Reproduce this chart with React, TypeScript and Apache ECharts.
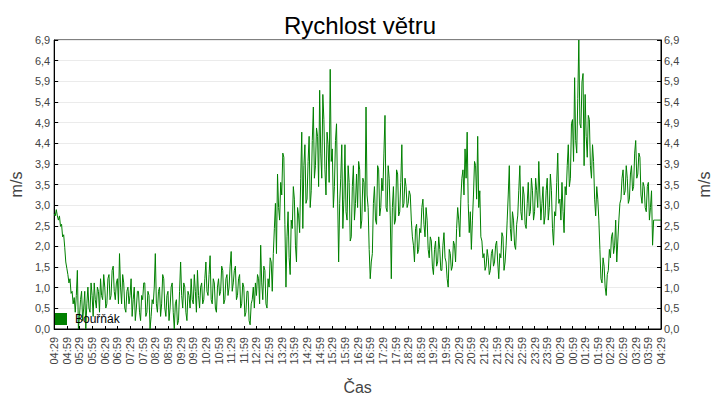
import React, { useEffect, useRef } from "react";
import * as echarts from "echarts";

const chartTitle = "Rychlost větru";
const seriesName = "Bouřňák";
const xAxisName = "Čas";
const yAxisName = "m/s";

// x tick labels, one every 30 minutes (04:29 to 04:29 next day)
const xTickLabels = [
  "04:29", "04:59", "05:29", "05:59", "06:29", "06:59", "07:29", "07:59",
  "08:29", "08:59", "09:29", "09:59", "10:29", "10:59", "11:29", "11:59",
  "12:29", "12:59", "13:29", "13:59", "14:29", "14:59", "15:29", "15:59",
  "16:29", "16:59", "17:29", "17:59", "18:29", "18:59", "19:29", "19:59",
  "20:29", "20:59", "21:29", "21:59", "22:29", "22:59", "23:29", "23:59",
  "00:29", "00:59", "01:29", "01:59", "02:29", "02:59", "03:29", "03:59",
  "04:29",
];

const yTickLabels = [
  "0,0", "0,5", "1,0", "1,5", "2,0", "2,5", "3,0", "3,5",
  "3,9", "4,4", "4,9", "5,4", "5,9", "6,4", "6,9",
];

const SAMPLE_MINUTES = 2.5;
const X_TICK_MINUTES = 30;
const Y_MAX = 6.9;

// wind speed, one reading every 2.5 minutes starting 04:29 (m/s)
const windSpeed = [
  // 04:29
  2.75, 2.7, 2.85, 2.7, 2.6, 2.7, 2.45, 2.5, 2.2, 2.25, 1.95, 1.6,
  1.45, 1.3, 1.1, 1.2, 0.85, 0.9, 0.6, 0.75, 0.4, 0.8, 1.4, 0.0,
  // 05:29
  0.3, 0.7, 0.9, 0.2, 0.5, 0.9, 0.0, 0.6, 1.0, 0.5, 0.4, 1.1,
  0.8, 0.3, 1.1, 0.7, 0.5, 1.0, 0.9, 0.4, 1.2, 0.8, 0.7, 1.3,
  // 06:29
  1.0, 0.5, 0.6, 1.2, 1.3, 0.7, 0.8, 1.4, 1.5, 0.9, 0.7, 1.1,
  1.2, 0.6, 1.8, 1.0, 0.6, 1.3, 1.1, 0.5, 0.4, 0.9, 1.0, 0.6,
  // 07:29
  0.8, 1.2, 0.3, 0.7, 1.0, 0.2, 0.5, 0.9, 0.9, 0.4, 0.2, 0.8,
  0.7, 1.1, 1.1, 0.3, 0.4, 0.9, 0.8, 0.0, 0.3, 0.7, 0.6, 1.0,
  // 08:29
  1.8, 0.6, 0.4, 0.9, 1.0, 0.3, 0.6, 1.3, 1.2, 0.5, 0.3, 0.8,
  0.9, 0.2, 0.5, 1.0, 1.1, 0.4, 0.0, 0.6, 0.7, 0.1, 0.2, 0.9,
  // 09:29
  1.6, 0.8, 0.5, 1.1, 1.0, 0.4, 0.2, 0.9, 0.8, 0.5, 1.2, 0.7,
  0.6, 1.3, 0.9, 0.4, 1.4, 0.8, 0.5, 1.0, 1.1, 0.6, 0.7, 1.2,
  // 10:29
  1.6, 0.9, 0.8, 1.3, 1.75, 0.7, 0.6, 1.2, 1.1, 0.5, 0.4, 1.0,
  1.2, 0.8, 0.9, 1.5, 1.4, 0.6, 0.7, 1.2, 1.3, 0.8, 1.0, 1.5,
  // 11:29
  1.85, 0.9, 1.1, 1.4, 1.5, 0.7, 0.8, 1.2, 1.3, 0.5, 0.6, 1.1,
  1.0, 0.3, 0.4, 0.9, 0.9, 0.2, 0.1, 0.6, 0.7, 1.0, 0.5, 1.1,
  // 12:29
  0.8, 1.3, 1.2, 0.6, 2.0, 1.1, 0.7, 1.5, 1.4, 0.6, 0.5, 1.2,
  1.0, 1.7, 1.6, 0.9, 1.8, 2.4, 3.0, 1.8, 3.7, 2.9, 2.6, 3.5,
  // 13:29
  3.2, 4.2, 4.1, 2.5, 1.0, 2.2, 2.8, 1.7, 1.3, 2.6, 2.4, 3.4,
  3.1, 2.0, 1.6, 2.9, 2.7, 2.3, 3.6, 4.7, 2.4, 3.9, 4.4, 3.0,
  // 14:29
  3.1, 4.0, 4.6, 2.9, 3.3, 4.5, 5.3, 3.6, 3.9, 4.8, 4.6, 3.4,
  5.7, 4.2, 3.6, 5.6, 5.0, 3.8, 3.2, 4.7, 4.4, 3.5, 6.2, 4.0,
  // 15:29
  4.3, 2.9, 3.4, 4.5, 4.9, 3.2, 1.6, 3.0, 3.6, 4.4, 2.4, 3.1,
  4.4, 2.8, 2.6, 3.9, 3.5, 2.1, 2.2, 3.4, 3.9, 2.6, 3.0, 3.7,
  // 16:29
  2.9, 4.0, 3.8, 2.4, 2.6, 3.6, 3.5, 2.8, 5.3, 3.2, 2.9, 1.9,
  1.2, 1.6, 1.8, 3.0, 3.4, 2.6, 2.5, 3.9, 3.8, 2.7, 2.9, 3.6,
  // 17:29
  3.3, 4.2, 5.1, 2.9, 2.8, 3.9, 3.6, 2.7, 1.2, 2.9, 3.4, 2.5,
  2.6, 3.8, 3.7, 2.7, 2.8, 3.5, 4.4, 2.9, 3.0, 3.6, 3.4, 2.9,
  // 18:29
  3.0, 3.3, 3.2, 2.6, 2.2, 2.0, 1.6, 2.4, 2.5, 1.8, 1.9, 2.4,
  2.3, 2.9, 3.1, 2.5, 2.2, 2.9, 2.6, 1.9, 1.7, 2.2, 2.1, 1.5,
  // 19:29
  1.3, 1.9, 2.1, 1.5, 1.6, 2.2, 1.9, 1.4, 1.4, 2.0, 2.3, 1.7,
  1.6, 1.2, 1.0, 1.9, 1.8, 1.4, 1.5, 2.1, 2.0, 1.6, 2.4, 2.9,
  // 20:29
  2.6, 2.2, 3.1, 3.6, 3.8, 3.2, 4.3, 3.6, 4.7, 3.0, 2.3, 2.8,
  1.9, 2.6, 3.2, 4.0, 3.9, 3.1, 4.6, 2.9, 3.3, 2.2, 2.1, 1.7,
  // 21:29
  1.8, 1.4, 1.5, 1.9, 1.7, 1.3, 1.4, 1.8, 1.9, 1.5, 1.6, 2.0,
  2.1, 1.6, 1.2, 1.8, 1.7, 2.3, 2.2, 1.4, 1.6, 2.0, 2.6, 3.2,
  // 22:29
  3.9, 2.4, 2.1, 2.8, 2.6, 2.0, 1.9, 2.5, 2.7, 3.3, 3.9, 2.8,
  2.6, 3.4, 3.2, 2.5, 2.4, 3.0, 3.5, 2.7, 2.8, 3.6, 3.3, 2.6,
  // 23:29
  2.8, 3.6, 3.3, 2.9, 4.0, 3.2, 2.6, 3.0, 3.4, 2.5, 2.7, 3.3,
  3.6, 2.6, 2.9, 3.7, 3.3, 2.4, 2.0, 2.8, 2.7, 3.5, 4.2, 3.0,
  // 00:29
  3.1, 2.6, 3.5, 2.8, 2.3, 3.4, 3.2, 3.9, 4.4, 3.4, 3.6, 4.9,
  5.0, 4.0, 6.0, 4.5, 4.2, 5.5, 6.9, 4.9, 4.8, 5.9, 6.1, 3.9,
  // 01:29
  5.6, 4.6, 4.1, 5.1, 5.0, 3.9, 3.6, 4.4, 4.0, 3.1, 2.7, 3.4,
  3.1, 2.6, 1.9, 1.2, 1.1, 1.7, 1.5, 1.0, 0.8, 1.3, 1.4, 1.9,
  // 02:29
  1.7, 2.2, 2.3, 1.8, 2.0, 2.6, 1.6, 2.1, 2.6, 3.0, 3.1, 3.6,
  3.8, 3.2, 3.3, 3.9, 3.6, 3.0, 3.1, 3.7, 3.9, 3.3, 3.4, 4.2,
  // 03:29
  4.5, 3.6, 3.7, 4.2, 4.1, 3.2, 3.0, 3.5, 3.4, 2.9, 2.8, 3.4,
  3.5, 2.6, 2.9, 3.3, 2.0, 2.6, 2.6, 2.6, 2.6, 2.6, 2.6, 2.6,
  // 04:29
  2.6,
];

const FONT = "'Liberation Sans', Arial, sans-serif";

export default function App() {
  const ref = useRef<HTMLDivElement>(null);

  useEffect(() => {
    document.body.style.margin = "0";
    if (!ref.current) return;
    const chart = echarts.init(ref.current, null, { renderer: "svg" });
    const yStep = Y_MAX / (yTickLabels.length - 1);
    const data = windSpeed.map((v, i) => [i * SAMPLE_MINUTES, v]);
    const xMax = (xTickLabels.length - 1) * X_TICK_MINUTES;

    const yAxisBase = (position: "left" | "right") => ({
      type: "value",
      position,
      min: 0,
      max: Y_MAX,
      interval: yStep,
      name: yAxisName,
      nameLocation: "middle",
      nameRotate: 90,
      nameGap: position === "left" ? 30 : 35,
      nameTextStyle: { fontSize: 16, color: "#444", fontFamily: FONT },
      axisLine: { show: true, lineStyle: { color: "#000", width: 1 } },
      axisTick: { show: true, inside: true, length: 4, lineStyle: { color: "#000" } },
      axisLabel: {
        fontSize: 11,
        color: "#444",
        fontFamily: FONT,
        margin: position === "left" ? 4 : 3,
        formatter: (v: number) => yTickLabels[Math.round(v / yStep)] ?? "",
      },
      splitLine: { show: position === "left", lineStyle: { color: "#ebebeb", width: 1 } },
    });

    chart.setOption({
      animation: false,
      backgroundColor: "#fff",
      title: {
        text: chartTitle,
        left: "center",
        top: 8,
        textStyle: { fontSize: 24, fontWeight: "normal", color: "#000", fontFamily: FONT },
      },
      grid: {
        left: 48,
        right: 49,
        top: 40,
        bottom: 69,
        show: true,
        borderColor: "#000",
        borderWidth: 1,
      },
      legend: {
        left: 55,
        top: 313,
        padding: 0,
        itemWidth: 12,
        itemHeight: 12,
        icon: "rect",
        textStyle: { fontSize: 12, color: "#000", fontFamily: FONT, padding: [0, 0, 0, 3] },
        data: [seriesName],
      },
      xAxis: {
        type: "value",
        min: 0,
        max: xMax,
        interval: X_TICK_MINUTES,
        name: xAxisName,
        nameLocation: "middle",
        nameGap: 50,
        nameTextStyle: { fontSize: 16, color: "#444", fontFamily: FONT },
        axisLine: { show: true, lineStyle: { color: "#000", width: 1 } },
        axisTick: { show: true, inside: true, length: 3, lineStyle: { color: "#000" } },
        axisLabel: {
          rotate: 90,
          fontSize: 11,
          color: "#444",
          fontFamily: FONT,
          margin: 8,
          formatter: (v: number) => xTickLabels[Math.round(v / X_TICK_MINUTES)] ?? "",
        },
        splitLine: { show: false },
      },
      yAxis: [yAxisBase("left"), yAxisBase("right")],
      series: [
        {
          name: seriesName,
          type: "line",
          yAxisIndex: 0,
          data,
          showSymbol: false,
          symbol: "rect",
          lineStyle: { color: "#008000", width: 1 },
          itemStyle: { color: "#008000" },
        },
      ],
    });

    return () => chart.dispose();
  }, []);

  return <div ref={ref} style={{ width: 720, height: 400 }} />;
}
